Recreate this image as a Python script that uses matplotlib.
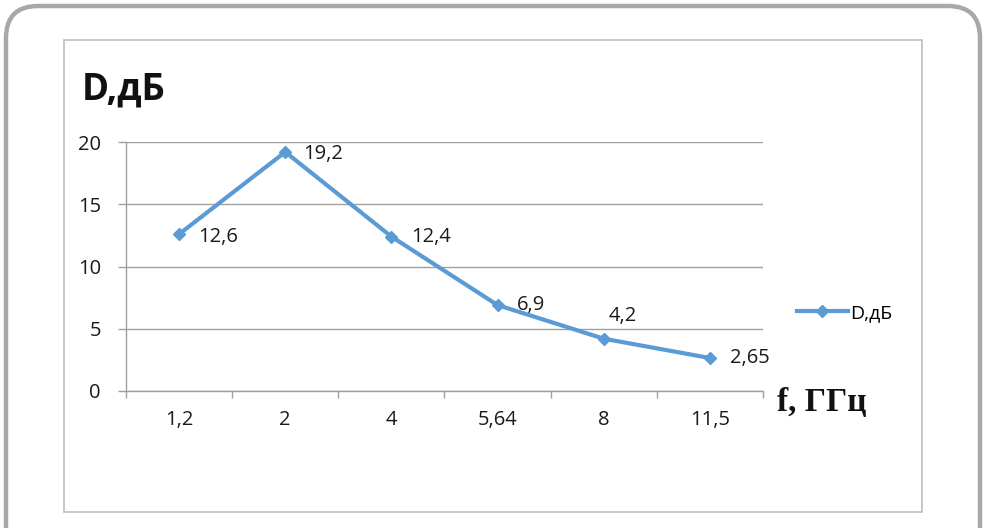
import matplotlib
matplotlib.use("Agg")
import matplotlib.pyplot as plt
from matplotlib.patches import FancyBboxPatch, Rectangle

# data
freq_labels = ["1,2", "2", "4", "5,64", "8", "11,5"]
d_values = [12.6, 19.2, 12.4, 6.9, 4.2, 2.65]
value_labels = ["12,6", "19,2", "12,4", "6,9", "4,2", "2,65"]
y_ticks = [0, 5, 10, 15, 20]

# where each data label sits relative to its point (pixels)
label_offsets = [(19, -3), (18, -2), (20, 0), (19, 0), (5, 23), (20, 0)]

W, H = 987, 528
sans = ["Open Sans", "DejaVu Sans"]
plt.rcParams["font.family"] = sans
blue = "#5b9bd5"
grid_c = "#a0a0a0"
txt_c = "#1a1a1a"

fig = plt.figure(figsize=(W / 100, H / 100), dpi=100)

# background layer in pixel coordinates for the frames
bg = fig.add_axes([0, 0, 1, 1], zorder=0)
bg.set_xlim(0, W)
bg.set_ylim(H, 0)
bg.axis("off")
bg.add_patch(FancyBboxPatch((6, 6), 974, 560,
                            boxstyle="round,pad=0,rounding_size=32",
                            fill=False, ec="#a8a8a8", lw=3.2))
bg.add_patch(Rectangle((64, 40), 858, 472, fill=False, ec="#c4c4c4", lw=1.3))

# plot area
left, right = 126 / W, 763 / W
bottom, top = 1 - 391 / H, 1 - 142 / H
ax = fig.add_axes([left, bottom, right - left, top - bottom], zorder=1)
ax.patch.set_alpha(0)

x = list(range(len(freq_labels)))
line, = ax.plot(x, d_values, color=blue, lw=3, marker="D", ms=6.5,
                mec=blue, mfc=blue, label="D,дБ", solid_joinstyle="round")

for xi, yi, txt, (dx, dy) in zip(x, d_values, value_labels, label_offsets):
    ax.annotate(txt, (xi, yi), xytext=(dx, dy), textcoords="offset pixels",
                ha="left", va="center", fontsize=14.5, color=txt_c)

ax.set_xlim(-0.5, len(freq_labels) - 0.5)
ax.set_ylim(0, 20)
ax.set_yticks(y_ticks)
ax.set_yticklabels([str(v) for v in y_ticks])
ax.set_xticks(x)
ax.set_xticklabels(freq_labels)
ax.set_xticks([i - 0.5 for i in range(len(freq_labels) + 1)], minor=True)

ax.tick_params(axis="x", which="major", length=0, pad=14, labelsize=14.5,
               labelcolor=txt_c)
ax.tick_params(axis="x", which="minor", length=5, color=grid_c, width=1)
ax.tick_params(axis="y", length=6, color=grid_c, width=1, pad=12,
               labelsize=14.5, labelcolor=txt_c)
ax.grid(axis="y", color=grid_c, lw=1)
ax.set_axisbelow(True)
for s in ["top", "right"]:
    ax.spines[s].set_visible(False)
for s in ["left", "bottom"]:
    ax.spines[s].set_color(grid_c)
    ax.spines[s].set_linewidth(1)

# titles
fig.text(82 / W, 1 - 100 / H, "D,дБ", fontsize=26.5, fontweight="bold",
         ha="left", va="baseline", color="#111111")
fig.text(777 / W, 1 - 411 / H, "f, ГГц", fontsize=24, fontweight="bold",
         family=["Liberation Serif", "DejaVu Serif"],
         ha="left", va="baseline", color="#111111")

fig.legend(handles=[line], loc="center left",
           bbox_to_anchor=(797 / W, 1 - 313 / H), frameon=False,
           fontsize=14, handlelength=2.6, handletextpad=0.15, borderpad=0,
           borderaxespad=0, markerscale=0.9)

fig.savefig("out.png", dpi=100)
